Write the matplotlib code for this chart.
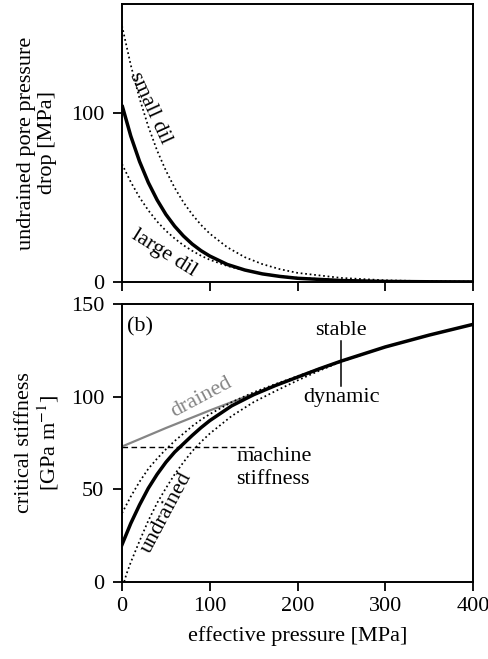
import matplotlib
matplotlib.use("Agg")
import matplotlib.pyplot as plt

plt.rcParams['font.family'] = ['Liberation Serif', 'DejaVu Serif']
plt.rcParams['mathtext.fontset'] = 'stix'
plt.rcParams['font.size'] = 16

# ---------------- data ----------------
# top panel: undrained pore pressure drop [MPa]
p_top = [0, 10, 20, 30, 40, 50, 60, 70, 80, 90, 100, 120, 140, 160, 180, 200, 250, 300, 350, 400]
dp_mid = [105, 86.6, 71.5, 59.0, 48.7, 40.1, 33.1, 27.3, 22.5, 18.6, 15.4, 10.4, 7.1, 4.8, 3.3, 2.2, 0.86, 0.33, 0.13, 0.05]
dp_small_dil = [152, 128.7, 108.9, 92.2, 78.0, 66.1, 55.9, 47.3, 40.1, 33.9, 28.7, 20.6, 14.7, 10.6, 7.6, 5.4, 2.4, 1.0, 0.45, 0.19]
dp_large_dil = [70, 59.3, 50.2, 42.5, 35.9, 30.4, 25.8, 21.8, 18.5, 15.6, 13.2, 9.5, 6.8, 4.9, 3.5, 2.5, 1.1, 0.47, 0.2, 0.09]

# bottom panel: critical stiffness [GPa/m]
p_bot = [0, 10, 20, 30, 40, 50, 60, 70, 80, 90, 100, 125, 150, 175, 200, 225, 250, 300, 350, 400]
k_undrained = [20, 31.5, 41.5, 50.5, 58, 64.5, 70, 74.5, 79, 83.2, 87, 95, 101, 106, 110.5, 115, 119.2, 126.8, 133.2, 139]
k_upper = [37, 46, 54, 61, 66.5, 71.5, 76, 80, 84, 87.5, 90.5, 97, 102.3, 106.8, 111, 115.2, 119.2, 126.8, 133.2, 139]
p_lower = [2.5, 5, 10, 20, 30, 40, 50, 60, 70, 80, 90, 100, 125, 150, 175, 200, 225, 250, 300, 350, 400]
k_lower = [0, 4, 10.5, 22, 33, 42.5, 50.5, 58, 64.5, 70.5, 75.5, 80, 89.5, 97, 103, 108.7, 114, 118.9, 126.8, 133.2, 139]
p_drained = [0, 50, 100, 150, 200, 225, 250]
k_drained = [73, 83, 92.5, 101.5, 110.5, 115, 119.2]
p_machine = [0, 150]
k_machine = [73, 73]
p_transition = 250
k_transition = [105.6, 130.1]

x_ticks = [0, 100, 200, 300, 400]
top_yticks = [0, 100]
bot_yticks = [0, 50, 100, 150]

# ---------------- figure ----------------
fig = plt.figure(figsize=(4.89, 6.59), dpi=100)
ax1 = fig.add_axes([0.2495, 0.5721, 0.7178, 0.4219])
ax2 = fig.add_axes([0.2495, 0.1173, 0.7178, 0.4214])

dot = (0, (1, 1.6))
for ax in (ax1, ax2):
    for s in ax.spines.values():
        s.set_linewidth(1.4)
    ax.tick_params(axis='both', direction='out', length=6.2, width=1.3)
    ax.tick_params(axis='y', pad=6.5)
    ax.tick_params(axis='x', pad=5)
    ax.set_xlim(0, 400)
    ax.set_xticks(x_ticks)

# top panel
ax1.plot(p_top, dp_small_dil, color='black', lw=1.25, ls=dot)
ax1.plot(p_top, dp_large_dil, color='black', lw=1.25, ls=dot)
ax1.plot(p_top, dp_mid, color='black', lw=2.5, solid_capstyle='butt')
ax1.set_ylim(0, 165)
ax1.set_yticks(top_yticks)
ax1.set_xticklabels([])
ax1.set_ylabel('undrained pore pressure\ndrop [MPa]', linespacing=1.15)
ax1.yaxis.set_label_coords(-0.184, 0.5)
ax1.text(32.3, 103, 'small dil', rotation=-65.5, ha='center', va='center',
         rotation_mode='anchor')
ax1.text(48, 17, 'large dil', rotation=-32, ha='center', va='center',
         rotation_mode='anchor')

# bottom panel
ax2.plot(p_machine, k_machine, color='black', lw=1.0, ls=(0, (4, 2.5)))
ax2.plot(p_drained, k_drained, color='#858585', lw=1.6)
ax2.plot(p_bot, k_upper, color='black', lw=1.25, ls=dot)
ax2.plot(p_lower, k_lower, color='black', lw=1.25, ls=dot)
ax2.plot(p_bot, k_undrained, color='black', lw=2.5)
ax2.plot([p_transition, p_transition], k_transition, color='black', lw=1.1)
ax2.set_ylim(0, 150)
ax2.set_yticks(bot_yticks)
ax2.set_xlabel('effective pressure [MPa]', labelpad=7)
ax2.set_ylabel('critical stiffness\n[GPa m$^{-1}$]', linespacing=1.05)
ax2.yaxis.set_label_coords(-0.175, 0.5)

ax2.text(5.3, 135, '(b)', ha='left', va='baseline')
ax2.text(250, 133, 'stable', ha='center', va='baseline')
ax2.text(250, 97, 'dynamic', ha='center', va='baseline')
ax2.text(130.6, 61.5, 'machine\nstiffness', ha='left', va='center', linespacing=1.25)
ax2.text(90.7, 99.5, 'drained', rotation=28, ha='center', va='center',
         rotation_mode='anchor', color='#858585')
ax2.text(51, 37.3, 'undrained', rotation=62, ha='center', va='center',
         rotation_mode='anchor')

fig.savefig('out.png', dpi=100)
